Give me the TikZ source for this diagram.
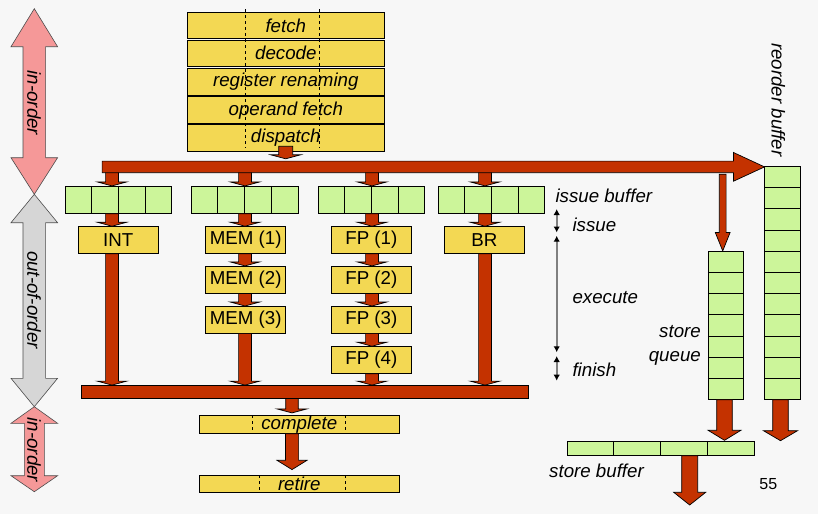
\documentclass[tikz,border=0pt]{standalone}
\usepackage{fontspec}
\setmainfont{Liberation Sans}
\usetikzlibrary{calc,arrows.meta}
\definecolor{bg}{HTML}{F7F7F7}
\definecolor{stage}{HTML}{F3D853}
\definecolor{buf}{HTML}{CCF59A}
\definecolor{flow}{HTML}{C43200}
\definecolor{pinkarr}{HTML}{F59898}
\definecolor{grayarr}{HTML}{D6D6D6}
\definecolor{markline}{HTML}{808080}
\newcommand\labfont{\fontsize{18.7pt}{22pt}\selectfont}
% vertical block arrow: #1 start, #2 tip, #3 shaft half width, #4 head half width, #5 head length
\newcommand\flowdown[5]{%
  \draw[flowshape] let \p1=#1, \p2=#2 in
   (\x1-#3,\y1) -- (\x1+#3,\y1) -- (\x1+#3,\y2+#5) -- (\x1+#4,\y2+#5) -- (\x1,\y2)
   -- (\x1-#4,\y2+#5) -- (\x1-#3,\y2+#5) -- cycle;}
% double headed vertical arrow: #1 x, #2 top tip, #3 bottom tip, #4 shaft hw, #5 head hw, #6 top head len, #7 bottom head len, #8 colour
\newcommand\dblarrow[8]{%
  \draw[fill=#8, draw=black!70, line width=0.6pt, line join=miter]
   (#1,#2) -- ({#1+#5},{#2+#6}) -- ({#1+#4},{#2+#6}) -- ({#1+#4},{#3-#7}) -- ({#1+#5},{#3-#7})
   -- (#1,#3) -- ({#1-#5},{#3-#7}) -- ({#1-#4},{#3-#7}) -- ({#1-#4},{#2+#6}) -- ({#1-#5},{#2+#6}) -- cycle;}
\tikzset{
  flowshape/.style={fill=flow, draw=black, line width=0.7pt, line join=miter},
  stagebox/.style={draw=black, fill=stage, line width=0.8pt, minimum width=197pt, minimum height=26.8pt,
    inner sep=0pt, font=\labfont\itshape},
  unitbox/.style={draw=black, fill=stage, line width=0.8pt, minimum width=80pt, minimum height=26.8pt,
    inner sep=0pt, font=\labfont},
  longbox/.style={draw=black, fill=stage, line width=0.8pt, minimum width=200pt,
    inner sep=0pt, font=\labfont\itshape},
  bufbox/.style={draw=black, fill=buf, line width=0.8pt, inner sep=0pt, minimum height=27pt},
  lbl/.style={font=\labfont\itshape, inner sep=0pt, text height=0.72em, text depth=0.2em, yshift=-3.6pt},
  sidelbl/.style={font=\labfont\itshape, inner sep=0pt, rotate=-90},
  stagemark/.style={draw=markline, line width=1.6pt, {Latex[black,length=6pt,width=6.5pt]}-{Latex[black,length=6pt,width=6.5pt]}},
}
\begin{document}
\begin{tikzpicture}[x=1pt,y=-1pt]
\path[fill=bg, use as bounding box] (0,0) rectangle (818,514);

% ---------- in-order / out-of-order arrows ----------
\dblarrow{34.3}{8.7}{194.3}{11.3}{23.3}{38}{36.6}{pinkarr}
\dblarrow{34.3}{194.3}{406.7}{11.3}{23.3}{28.4}{28.4}{grayarr}
\dblarrow{34.3}{406.7}{491.7}{10}{23.3}{16.6}{16}{pinkarr}
\node[sidelbl] (io1) at (34,103) {in-order};
\node[sidelbl] (ooo) at (34,300) {out-of-order};
\node[sidelbl] (io2) at (34,450) {in-order};

% ---------- front-end stages ----------
\node[stagebox] (fetch)    at (285.8,25.4)  {fetch};
\node[stagebox] (decode)   at (285.8,53.3)  {decode};
\node[stagebox] (rename)   at (285.8,81.9)  {register renaming};
\node[stagebox] (opfetch)  at (285.8,110.2) {operand fetch};
\node[stagebox] (dispatch) at (285.8,137.8) {dispatch};
\draw[dashed, line width=0.6pt] (245.7,9.3) -- (245.7,148);
\draw[dashed, line width=0.6pt] (319.3,9.3) -- (319.3,148);

% ---------- main dispatch bar (geometry) ----------
\node[inner sep=0pt, minimum width=631pt, minimum height=11.2pt] (bar) at (417.8,166.9) {};

% ---------- issue buffers ----------
\node[bufbox, minimum width=106.4pt] (ibint) at (118.5,199.8) {};
\node[bufbox, minimum width=107pt]   (ibmem) at (244.8,199.8) {};
\node[bufbox, minimum width=106pt]   (ibfp)  at (371.3,199.8) {};
\node[bufbox, minimum width=106pt]   (ibbr)  at (491.3,199.8) {};
\foreach \b in {ibint,ibmem,ibfp,ibbr}{
  \foreach \i in {1,2,3}{
    \draw[line width=0.8pt] ($(\b.north west)!\i/4!(\b.north east)$) -- ($(\b.south west)!\i/4!(\b.south east)$);
  }
}

% ---------- execution units ----------
\node[unitbox] (int)  at (118.3,240)   {INT};
\node[unitbox] (mem1) at (245.7,240)   {MEM (1)};
\node[unitbox] (mem2) at (245.7,279.7) {MEM (2)};
\node[unitbox] (mem3) at (245.7,319.8) {MEM (3)};
\node[unitbox] (fp1)  at (371.3,240)   {FP (1)};
\node[unitbox] (fp2)  at (371.3,279.7) {FP (2)};
\node[unitbox] (fp3)  at (371.3,319.8) {FP (3)};
\node[unitbox] (fp4)  at (371.3,360)   {FP (4)};
\node[unitbox] (br)   at (484.3,240)   {BR};

% ---------- completion bar, complete, retire ----------
\node[inner sep=0pt, minimum width=446.4pt, minimum height=13pt] (bbar) at (304.5,391.8) {};
\node[longbox, minimum height=18pt] (complete) at (299.3,424.3) {complete};
\node[longbox, minimum height=17pt] (retire)   at (299.3,483.8) {retire};
\draw[dashed, line width=0.6pt] (252.3,415.3) -- (252.3,433.3);
\draw[dashed, line width=0.6pt] (345.3,415.3) -- (345.3,433.3);
\draw[dashed, line width=0.6pt] (259.7,475.3) -- (259.7,492.3);
\draw[dashed, line width=0.6pt] (345.3,475.3) -- (345.3,492.3);

% ---------- store queue, reorder buffer, store buffer ----------
\node[bufbox, minimum width=35pt, minimum height=148pt] (sq) at (725.8,325.3) {};
\foreach \i in {1,...,6}{
  \draw[line width=0.8pt] ($(sq.north west)!\i/7!(sq.south west)$) -- ($(sq.north east)!\i/7!(sq.south east)$);
}
\node[bufbox, minimum width=36pt, minimum height=232.6pt] (rob) at (782.3,283) {};
\foreach \i in {1,...,10}{
  \draw[line width=0.8pt] ($(rob.north west)!\i/11!(rob.south west)$) -- ($(rob.north east)!\i/11!(rob.south east)$);
}
\node[bufbox, minimum width=187pt, minimum height=14pt] (sb) at (660.8,448.3) {};
\foreach \i in {1,2,3}{
  \draw[line width=0.8pt] ($(sb.north west)!\i/4!(sb.north east)$) -- ($(sb.south west)!\i/4!(sb.south east)$);
}

% ---------- column coordinates ----------
\coordinate (cint) at (112,0);
\coordinate (cmem) at (245,0);
\coordinate (cfp)  at (372,0);
\coordinate (cbr)  at (485,0);
\coordinate (ccmp) at (292,0);
\coordinate (csq)  at (722.7,0);
\coordinate (csq2) at (724.5,0);
\coordinate (robend) at (780.5,440.7);
\coordinate (sbend)  at (689.7,505);

% ---------- flow arrows ----------
\flowdown{($(dispatch.south)+(-0.1,-5.3)$)}{($(dispatch.south |- bar.north)+(-0.1,-2.3)$)}{7pt}{15pt}{4pt}
\foreach \c/\b/\u in {cint/ibint/int, cmem/ibmem/mem1, cfp/ibfp/fp1, cbr/ibbr/br}{
  \flowdown{(\c |- bar.center)}{(\c |- \b.north)}{6.4pt}{14.8pt}{4pt}
  \flowdown{(\c |- \b.south)}{(\c |- \u.north)}{6.4pt}{14.8pt}{4pt}
}
\foreach \c/\a/\b in {cmem/mem1/mem2, cmem/mem2/mem3, cfp/fp1/fp2, cfp/fp2/fp3, cfp/fp3/fp4}{
  \flowdown{(\c |- \a.south)}{(\c |- \b.north)}{6.4pt}{14.8pt}{4pt}
}
\foreach \c/\a in {cint/int, cmem/mem3, cfp/fp4, cbr/br}{
  \flowdown{(\c |- \a.south)}{(\c |- bbar.north)}{6.4pt}{14.8pt}{4pt}
}
\flowdown{(ccmp |- bbar.center)}{($(ccmp |- complete.north)+(0,-2)$)}{6.3pt}{15pt}{4pt}
\flowdown{(ccmp |- complete.south)}{($(ccmp |- retire.north)+(0,-5.3)$)}{6.6pt}{15pt}{9.3pt}
\flowdown{($(csq |- bar.south)+(0,1.5)$)}{(csq |- sq.north)}{3.4pt}{7.4pt}{18.4pt}
\flowdown{(csq2 |- sq.south)}{($(csq2 |- sb.north)+(0,-0.6)$)}{7.8pt}{16.4pt}{10pt}
\flowdown{(robend |- rob.south)}{(robend)}{7.8pt}{17pt}{10pt}
\flowdown{(sbend |- sb.south)}{(sbend)}{8pt}{16pt}{12.7pt}

% main bar with arrow head
\draw[flowshape] (bar.north west) -- (bar.north east) -- ++(0,-8.6) -- ($(bar.east)+(31,0)$)
  -- ($(bar.south east)+(0,8.5)$) -- (bar.south east) -- (bar.south west) -- cycle;
% completion bar
\draw[flowshape] (bbar.north west) rectangle (bbar.south east);

% ---------- stage markers ----------
\coordinate (m1) at (556.7,209);
\coordinate (m2) at (556.7,232.5);
\coordinate (m3) at (556.7,235.7);
\coordinate (m4) at (556.7,352.3);
\coordinate (m5) at (556.7,356);
\coordinate (m6) at (556.7,380.7);
\draw[stagemark] (m1) -- (m2);
\draw[stagemark] (m3) -- (m4);
\draw[stagemark] (m5) -- (m6);

% ---------- labels ----------
\node[lbl, anchor=west] (lissuebuf) at (555.3,196.7) {issue buffer};
\node[lbl, anchor=west] (lissue)    at (572.3,225)   {issue};
\node[lbl, anchor=west] (lexec)     at (572.3,297.7) {execute};
\node[lbl, anchor=west] (lfinish)   at (572.3,370)   {finish};
\node[lbl, anchor=east] (lstore)    at (701,331)     {store};
\node[lbl, anchor=east] (lqueue)    at (701,355.3)   {queue};
\node[lbl] (lsb) at (596.5,471.7) {store buffer};
\node[sidelbl] (lrob) at (778.3,100) {reorder buffer};
\node[inner sep=0pt, font=\fontsize{16pt}{18pt}\selectfont] (pageno) at (768.3,484.3) {55};
\end{tikzpicture}
\end{document}
